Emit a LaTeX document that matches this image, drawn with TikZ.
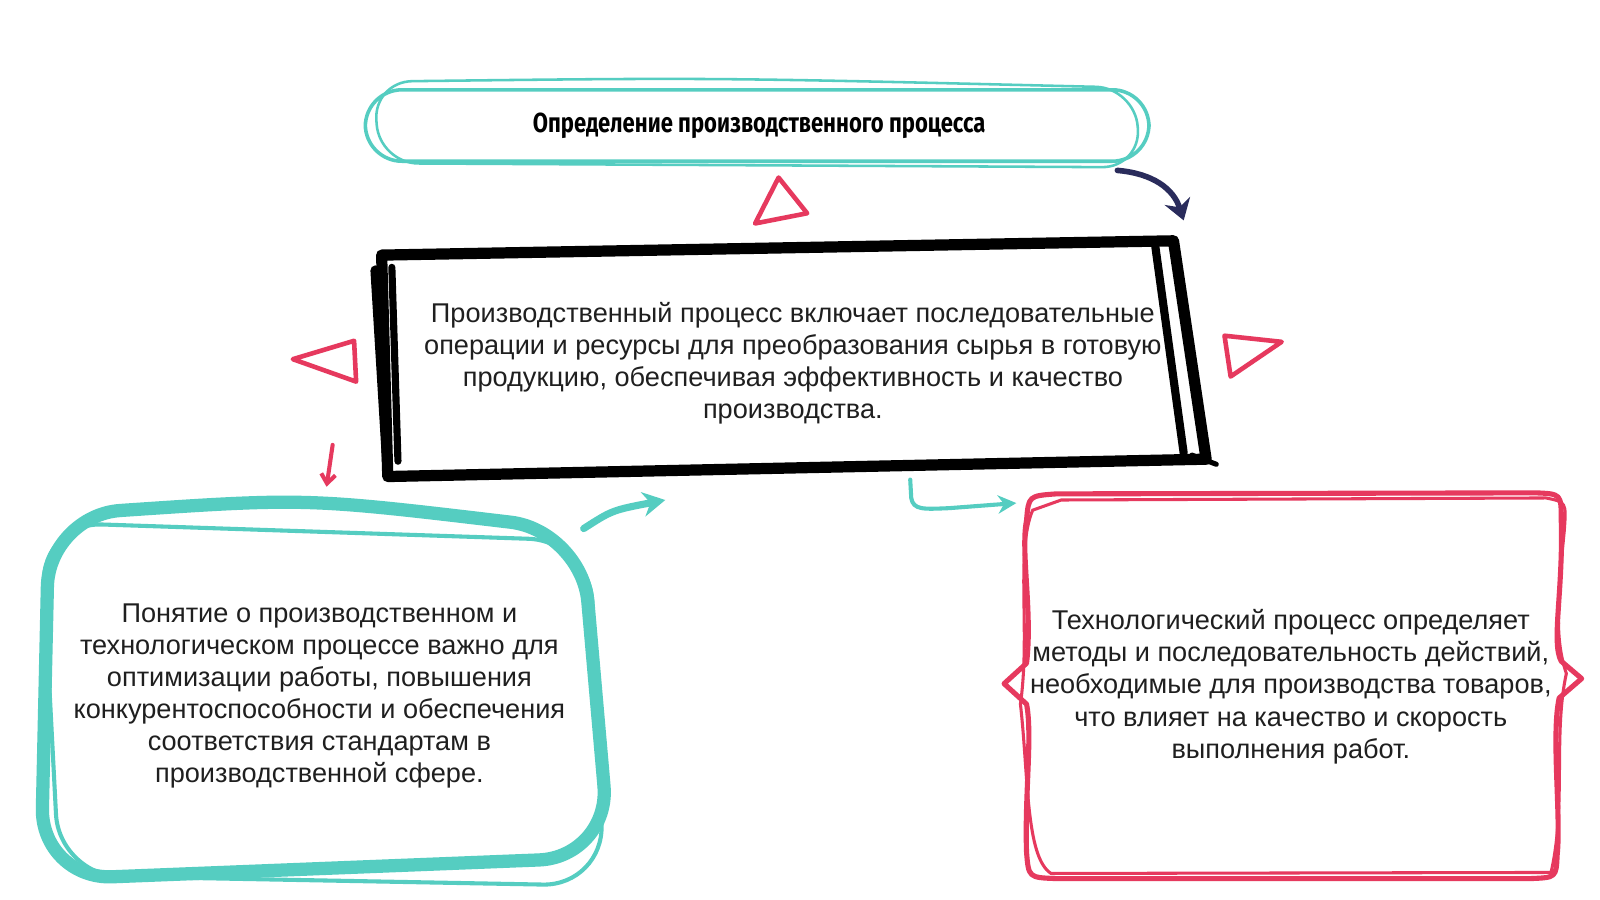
\documentclass[tikz,border=0pt]{standalone}
\usepackage{fontspec}
\setmainfont{Liberation Sans}
\newfontfamily\titlefont[FakeStretch=0.8]{Fira Sans}
\usetikzlibrary{arrows.meta}
\definecolor{teal1}{HTML}{55CDC1}
\definecolor{red1}{HTML}{E6395E}
\definecolor{navy1}{HTML}{2A2C5C}
\tikzset{
  txt/.style={align=center, font=\fontsize{26.6}{31.5}\selectfont, text=black!88, inner sep=0pt},
  tri/.style={draw=red1, line width=4.5pt, line join=round},
  arr/.style={line cap=round, line join=round},
}
\begin{document}
\begin{tikzpicture}[x=1pt,y=-1pt]
\useasboundingbox[fill=white] (0,0) rectangle (1568,882);

% title pill
\draw[teal1, line width=3.5pt, rounded corners=36pt] (358,88) rectangle (1126,158);
\draw[teal1, line width=2.5pt, rounded corners=38pt] (366,80) .. controls (700,76) .. (1112,86) -- (1118,164) -- (372,160) -- cycle;
\node[font=\titlefont\bfseries\fontsize{27}{30}\selectfont] (title) at (744,123) {Определение производственного процесса};

% triangles
\draw[tri] (763,174) -- (740,219) -- (791,209) -- cycle;
\draw[tri] (287,352) -- (347,334) -- (349,374) -- cycle;
\draw[tri] (1200,329) -- (1256,335) -- (1206,369) -- cycle;

% main black box
\draw[black, line width=11pt, line join=round, line cap=round] (374,250) -- (1150,236) -- (1182,450) -- (380,467) -- cycle;
\draw[black, line width=10pt, line cap=round] (368,265) -- (380,462);
\draw[black, line width=7pt, line cap=round] (384,262) -- (390,452);
\draw[black, line width=8pt, line cap=round] (1132,240) -- (1160,444);
\draw[black, line width=5pt, line cap=round] (1168,446) -- (1192,455);
\node[txt] (main) at (777,356) {Производственный процесс включает последовательные\\операции и ресурсы для преобразования сырья в готовую\\продукцию, обеспечивая эффективность и качество\\производства.};

% navy arrow
\coordinate (na1) at (1095,167);
\coordinate (na2) at (1160,216);
\draw[navy1, line width=5.5pt, arr, -{Stealth[length=20pt,width=26pt]}] (na1) .. controls (1130,170) and (1150,185) .. (na2);

% left teal box
\draw[teal1, line width=13pt, rounded corners=70pt, line join=round] (48,505) .. controls (300,488) .. (570,520) -- (598,840) -- (40,862) -- cycle;
\draw[teal1, line width=4pt, rounded corners=60pt] (40,512) -- (578,530) -- (592,868) -- (58,858) -- cycle;
\node[txt] (left) at (313,682) {Понятие о производственном и\\технологическом процессе важно для\\оптимизации работы, повышения\\конкурентоспособности и обеспечения\\соответствия стандартам в\\производственной сфере.};

% red small arrow
\coordinate (ra1) at (326,436);
\coordinate (ra2) at (320,477);
\draw[red1, line width=4pt, arr, -{Straight Barb[length=9pt,width=14pt]}] (ra1) -- (ra2);

% teal arrow from left box
\coordinate (ta1) at (572,518);
\coordinate (ta2) at (652,490);
\draw[teal1, line width=7pt, arr, -{Stealth[length=22pt,width=24pt]}] (ta1) .. controls (600,500) .. (ta2);

% teal hooked arrow
\coordinate (tb1) at (892,470);
\coordinate (tb2) at (996,493);
\draw[teal1, line width=4pt, arr, -{Stealth[length=18pt,width=18pt]}] (tb1) -- (893,488) .. controls (895,500) and (905,499) .. (930,498) -- (tb2);

% right red box
\draw[red1, line width=5pt, line join=round]
 (1035,484) -- (1505,483) .. controls (1530,484) .. (1530,510)
 .. controls (1532,580) and (1520,630) .. (1530,648) -- (1550,665) -- (1528,684)
 .. controls (1520,720) and (1530,800) .. (1526,838) .. controls (1525,860) .. (1500,861)
 -- (1035,861) .. controls (1008,860) .. (1006,835)
 .. controls (1004,780) and (1012,720) .. (1006,690) -- (984,670) -- (1006,650)
 .. controls (1012,600) and (1000,540) .. (1006,510) .. controls (1008,486) .. (1035,484) -- cycle;
\draw[red1, line width=3pt]
 (1040,490) -- (1515,488) .. controls (1535,492) .. (1533,520)
 .. controls (1525,600) and (1525,630) .. (1535,660)
 .. controls (1522,720) and (1535,790) .. (1520,855)
 -- (1030,856) .. controls (1005,840) and (1008,760) .. (1000,690)
 .. controls (1010,620) and (995,540) .. (1012,500) -- cycle;
\node[txt] (right) at (1265,673) {Технологический процесс определяет\\методы и последовательность действий,\\необходимые для производства товаров,\\что влияет на качество и скорость\\выполнения работ.};
\end{tikzpicture}
\end{document}
